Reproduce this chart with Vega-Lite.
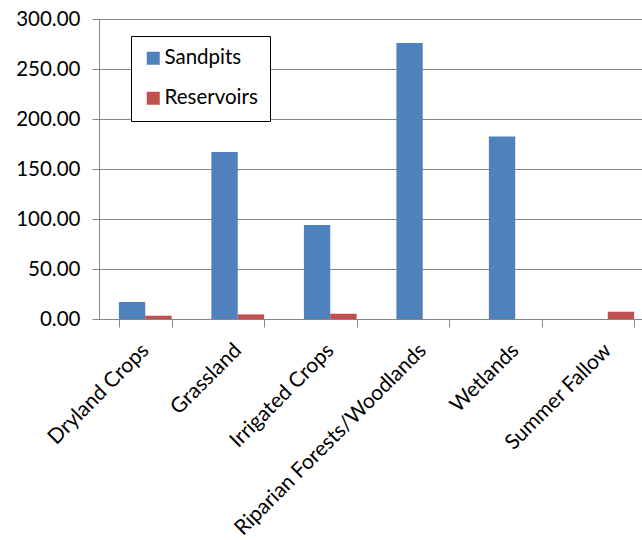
{
  "$schema": "https://vega.github.io/schema/vega-lite/v6.json",
  "autosize": {"type": "none"},
  "padding": {"left": 99, "top": 19, "right": 0, "bottom": 221},
  "width": 543,
  "height": 300,
  "background": "white",
  "config": {
    "font": "Lato",
    "view": {"stroke": null},
    "axis": {"labelFont": "Lato", "labelColor": "#000000", "domainColor": "#868686", "tickColor": "#868686", "gridColor": "#868686"}
  },
  "data": {
    "values": [
      {"cover": "Dryland Crops", "series": "Sandpits", "value": 17},
      {"cover": "Dryland Crops", "series": "Reservoirs", "value": 3.3},
      {"cover": "Grassland", "series": "Sandpits", "value": 167},
      {"cover": "Grassland", "series": "Reservoirs", "value": 4.6},
      {"cover": "Irrigated Crops", "series": "Sandpits", "value": 94},
      {"cover": "Irrigated Crops", "series": "Reservoirs", "value": 5.3},
      {"cover": "Riparian Forests/Woodlands", "series": "Sandpits", "value": 276},
      {"cover": "Riparian Forests/Woodlands", "series": "Reservoirs", "value": 0},
      {"cover": "Wetlands", "series": "Sandpits", "value": 182.6},
      {"cover": "Wetlands", "series": "Reservoirs", "value": 0},
      {"cover": "Summer Fallow", "series": "Sandpits", "value": 0},
      {"cover": "Summer Fallow", "series": "Reservoirs", "value": 7.3}
    ]
  },
  "mark": {"type": "bar"},
  "encoding": {
    "x": {
      "field": "cover", "type": "nominal", "sort": null, "title": null,
      "scale": {"range": [0, 555], "paddingInner": 0.43, "paddingOuter": 0.215},
      "axis": {"labelAngle": -45, "labelAlign": "right", "labelBaseline": "middle", "labelFontSize": 21, "labelLimit": 0, "tickBand": "extent", "tickSize": 8, "labelPadding": 20, "grid": false}
    },
    "xOffset": {"field": "series", "type": "nominal", "sort": ["Sandpits", "Reservoirs"], "scale": {"paddingInner": 0, "paddingOuter": 0}},
    "y": {
      "field": "value", "type": "quantitative", "title": null,
      "scale": {"domain": [0, 300], "nice": false},
      "axis": {"values": [0, 50, 100, 150, 200, 250, 300], "format": ".2f", "labelFontSize": 20.5, "tickSize": 7, "labelPadding": 12, "grid": true}
    },
    "color": {
      "field": "series", "type": "nominal", "sort": ["Sandpits", "Reservoirs"],
      "scale": {"domain": ["Sandpits", "Reservoirs"], "range": ["#4F81BD", "#C0504D"]},
      "legend": {"title": null, "orient": "none", "legendX": 32, "legendY": 17, "symbolType": "square", "symbolSize": 169, "symbolStrokeWidth": 0, "labelFontSize": 20.5, "labelFont": "Lato", "labelColor": "#000000", "labelOffset": 1, "padding": 12, "rowPadding": 19, "strokeColor": "#000000", "fillColor": "#ffffff", "symbolOpacity": 1}
    }
  }
}
